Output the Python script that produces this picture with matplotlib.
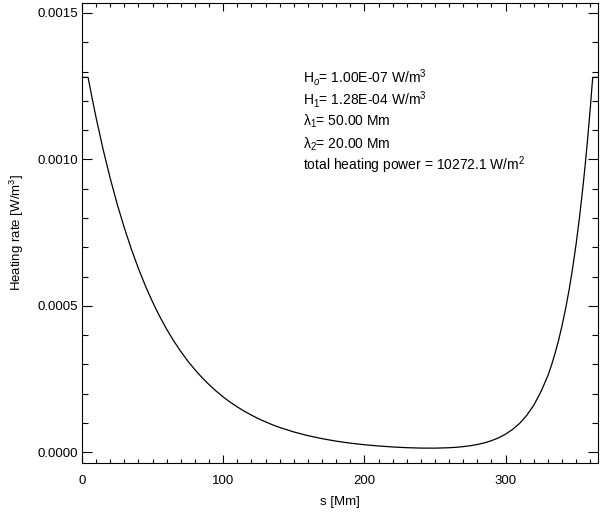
import matplotlib
matplotlib.use("Agg")
import matplotlib.pyplot as plt
from matplotlib.ticker import MultipleLocator, FormatStrFormatter

plt.rcParams['font.family'] = ['Liberation Sans', 'DejaVu Sans']
plt.rcParams['mathtext.fontset'] = 'custom'
plt.rcParams['mathtext.rm'] = 'Liberation Sans'
plt.rcParams['mathtext.it'] = 'Liberation Sans:italic'
plt.rcParams['mathtext.bf'] = 'Liberation Sans:bold'

# Curve values
s_mm = [0, 4.3, 7, 10, 15, 20, 25, 30, 35, 40, 45, 50, 55, 60, 65, 70, 75, 80,
        85, 90, 95, 100, 105, 110, 115, 120, 125, 130, 135, 140, 150, 160, 170,
        180, 190, 200, 210, 220, 230, 240, 250, 260, 265, 270, 275, 280, 285,
        290, 295, 300, 305, 310, 315, 320, 325, 330, 332.5, 335, 337.5, 340,
        342.5, 345, 347.5, 350, 352.5, 355, 356.5, 358, 360, 361.7, 365]
heating = [0.00128, 0.00128, 0.001213, 0.001142, 0.001033, 0.000935, 0.000846,
           0.000766, 0.000693, 0.000627, 0.000567, 0.000513, 0.000464, 0.000420,
           0.000380, 0.000344, 0.000311, 0.000282, 0.000255, 0.000231, 0.000209,
           0.000189, 0.000171, 0.000155, 0.000140, 0.000127, 0.0001145, 0.000104,
           0.0000937, 0.0000848, 0.0000695, 0.0000569, 0.0000466, 0.0000381,
           0.0000312, 0.0000259, 0.0000216, 0.0000182, 0.0000158, 0.0000144,
           0.0000142, 0.0000156, 0.0000171, 0.0000194, 0.0000225, 0.0000266,
           0.0000322, 0.0000397, 0.0000494, 0.000062, 0.0000782, 0.000099,
           0.0001264, 0.000161, 0.0002064, 0.000262, 0.0002972, 0.000337,
           0.0003817, 0.000433, 0.0004901, 0.000555, 0.0006293, 0.000713,
           0.0008081, 0.000916, 0.000987, 0.001064, 0.0011757, 0.00128, 0.00128]

annot_lines = [r"H$_o$= 1.00E-07 W/m$^3$",
               r"H$_1$= 1.28E-04 W/m$^3$",
               r"λ$_1$= 50.00 Mm",
               r"λ$_2$= 20.00 Mm",
               r"total heating power = 10272.1 W/m$^2$"]
annot_y_px = [77.7, 99.3, 121.7, 144.0, 165.7]

W, H = 600, 516
fig = plt.figure(figsize=(6.0, 5.16), dpi=100)
l, r, t, b = 82, 597.5, 2.7, 462.7
ax = fig.add_axes([l / W, 1 - b / H, (r - l) / W, (b - t) / H])

ax.plot(s_mm, heating, color='black', lw=0.9)
ax.set_xlim(0, 365.1)
ax.set_ylim(-0.0000355, 0.001535)

ax.xaxis.set_major_locator(MultipleLocator(100))
ax.xaxis.set_minor_locator(MultipleLocator(10))
ax.yaxis.set_major_locator(MultipleLocator(0.0005))
ax.yaxis.set_minor_locator(MultipleLocator(0.0001))
ax.yaxis.set_major_formatter(FormatStrFormatter('%.4f'))
ax.xaxis.set_major_formatter(FormatStrFormatter('%d'))

ax.tick_params(axis='both', which='both', direction='in', top=True, right=True,
               width=0.8, colors='black', labelsize=9.5)
ax.tick_params(axis='x', which='major', length=6, pad=9)
ax.tick_params(axis='x', which='minor', length=3)
ax.tick_params(axis='y', which='major', length=7.5, pad=3)
ax.tick_params(axis='y', which='minor', length=4)
for sp in ax.spines.values():
    sp.set_linewidth(0.8)

ax.set_xlabel('s [Mm]', fontsize=9.5, labelpad=6)
ax.set_ylabel(r'Heating rate [W/m$^3$]', fontsize=9.5, labelpad=8)

for txt, ypx in zip(annot_lines, annot_y_px):
    fig.text(303.3 / W, 1 - ypx / H, txt, fontsize=10, va='center', ha='left')

fig.savefig('out.png', dpi=100)
